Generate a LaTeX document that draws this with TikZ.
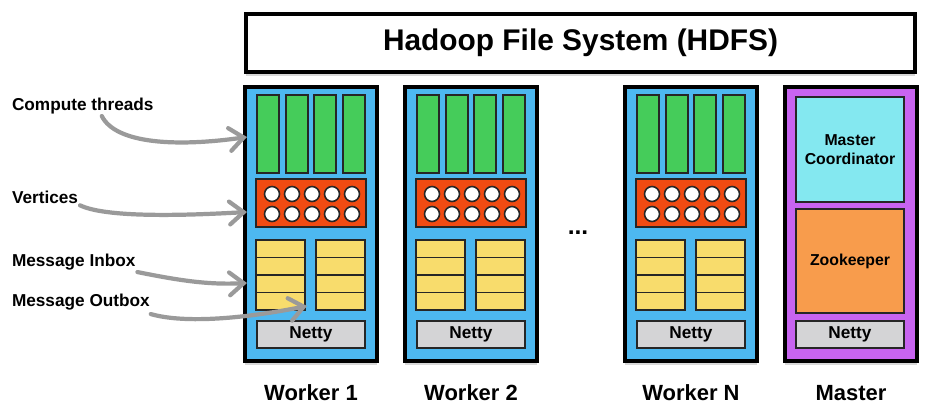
\documentclass[tikz,border=0pt]{standalone}
\usepackage{fontspec}
\setmainfont{Liberation Sans}
\usetikzlibrary{arrows.meta,shadows,calc}
\definecolor{wblue}{HTML}{4DB8F0}
\definecolor{tgreen}{HTML}{45CC5A}
\definecolor{vred}{HTML}{F04B12}
\definecolor{yel}{HTML}{F8DC6C}
\definecolor{nettyg}{HTML}{D4D4D6}
\definecolor{mpurple}{HTML}{C864F0}
\definecolor{mcyan}{HTML}{84E8F0}
\definecolor{zorange}{HTML}{F89C4C}
\definecolor{arrgray}{HTML}{9A9A9A}
\begin{document}
\begin{tikzpicture}[x=0.02cm,y=-0.02cm,
  every node/.style={inner sep=0pt,outer sep=0pt},
  px/.style 2 args={minimum width=#1*0.02cm,minimum height=#2*0.02cm},
  outer/.style={draw=black,line width=2.2pt,anchor=north west,
    drop shadow={opacity=0.3,shadow xshift=0pt,shadow yshift=-2.5pt}},
  part/.style={draw=black!85,line width=1.1pt,anchor=north west},
  vert/.style={circle,draw=black!85,line width=0.9pt,fill=white,minimum size=15*0.02cm},
  lbl/.style={font=\bfseries\fontsize{12.5}{14}\selectfont},
  small/.style={font=\bfseries\fontsize{9.8}{11}\selectfont},
  tiny/.style={font=\bfseries\fontsize{9}{11}\selectfont,align=center},
  side/.style={font=\bfseries\fontsize{9.8}{12}\selectfont,anchor=west},
  arr/.style={draw=arrgray,line width=2.4pt,line cap=round,
    -{Straight Barb[length=8pt,width=13pt,line cap=round]}}
]
\useasboundingbox[fill=white] (0,0) rectangle (952,416);

% HDFS
\node[outer,fill=white,px={669}{58},font=\bfseries\fontsize{17}{20}\selectfont] (hdfs) at (246,14) {Hadoop File System (HDFS)};

% workers
\foreach \xo/\nm/\lab in {245/w1/Worker 1,405/w2/Worker 2,625/wn/Worker N}{
  \node[outer,fill=wblue,px={132}{274}] (\nm) at (\xo,87) {};
  \foreach \g/\gx in {1/12,2/41,3/69,4/98}
    \node[part,fill=tgreen,px={22}{78}] (\nm-g\g) at (\xo+\gx,95) {};
  \node[part,fill=vred,px={110}{48}] (\nm-v) at (\xo+11,179) {};
  \foreach \c in {0,...,4}{
    \node[vert] (\nm-va\c) at (\xo+27+20*\c,194) {};
    \node[vert] (\nm-vb\c) at (\xo+27+20*\c,214) {};
  }
  \foreach \k in {0,...,3}{
    \node[part,fill=yel,px={49}{17.5}] (\nm-in\k) at (\xo+11,240+17.5*\k) {};
    \node[part,fill=yel,px={49}{17.5}] (\nm-out\k) at (\xo+71,240+17.5*\k) {};
  }
  \node[part,fill=nettyg,px={108}{27},small] (\nm-net) at (\xo+12,321) {Netty};
  \node[lbl] (\nm-l) at (\xo+66,393) {\lab};
}

% dots
\node[anchor=base,font=\bfseries\fontsize{14}{16}\selectfont] (dots) at (578,234) {...};

% master
\node[outer,fill=mpurple,px={132}{274}] (m) at (785,87) {};
\node[part,fill=mcyan,px={108}{105},tiny] (mc) at (796,97) {Master\\Coordinator};
\node[part,fill=zorange,px={108}{104},tiny] (zk) at (796,209) {Zookeeper};
\node[part,fill=nettyg,px={108}{27},small] (mnet) at (796,321) {Netty};
\node[lbl] (ml) at (851,393) {Master};

% side labels
\node[side] (lct) at (12,106) {Compute threads};
\node[side] (lver) at (12,197) {Vertices};
\node[side] (linb) at (12,262) {Message Inbox};
\node[side] (lout) at (12,302) {Message Outbox};

\coordinate (ect) at (247,137);
\coordinate (ever) at (247,212);
\coordinate (einb) at (247,283);
\coordinate (eout) at (307,306);

\draw[arr] ($(lct.south)+(19,2)$) .. controls +(14,28) and +(-70,10) .. (ect);
\draw[arr] ($(lver.south east)+(2,2)$) .. controls +(25,12) and +(-70,4) .. (ever);
\draw[arr] ($(linb.south east)+(2,2)$) .. controls +(40,8) and +(-40,2) .. (einb);
\draw[arr] ($(lout.south east)+(1,4)$) .. controls +(35,10) and +(-60,12) .. (eout);
\end{tikzpicture}
\end{document}
